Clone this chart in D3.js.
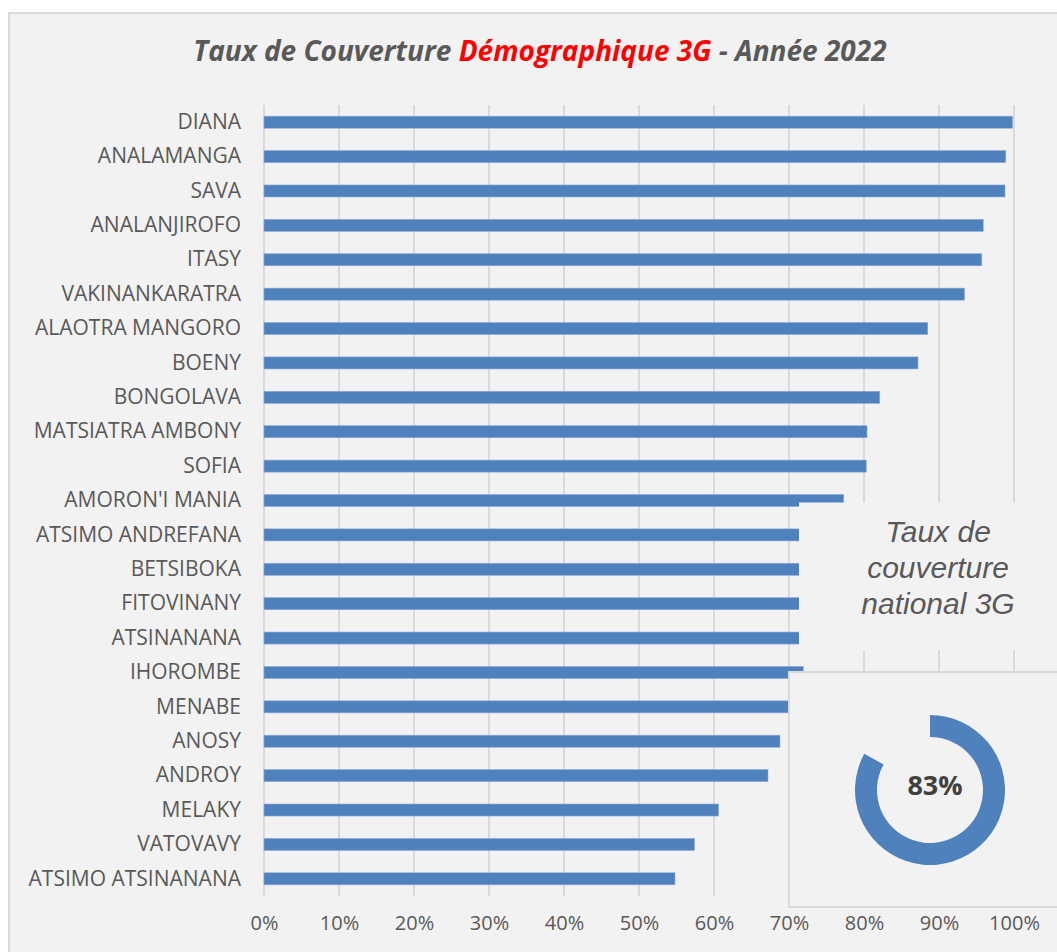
<!DOCTYPE html>
<html>
<head>
<meta charset="utf-8">
<script src="https://cdn.jsdelivr.net/npm/d3@7"></script>
<style>
  html, body { margin: 0; padding: 0; background: #ffffff; }
  svg { display: block; font-family: "Open Sans", "DejaVu Sans", sans-serif; }
</style>
</head>
<body>
<div id="chart"></div>
<script>
// Regions sorted by 3G population coverage, top to bottom.
const regions = [
  "DIANA", "ANALAMANGA", "SAVA", "ANALANJIROFO", "ITASY", "VAKINANKARATRA",
  "ALAOTRA MANGORO", "BOENY", "BONGOLAVA", "MATSIATRA AMBONY", "SOFIA",
  "AMORON'I MANIA", "ATSIMO ANDREFANA", "BETSIBOKA", "FITOVINANY", "ATSINANANA",
  "IHOROMBE", "MENABE", "ANOSY", "ANDROY", "MELAKY", "VATOVAVY", "ATSIMO ATSINANANA"
];
// Coverage in %. Some bar ends sit under the inset boxes, those are estimates.
const coverage = [
  99.8, 98.9, 98.8, 95.9, 95.7, 93.4,
  88.5, 87.2, 82.1, 80.4, 80.3,
  77.3, 75.5, 74.5, 73.5, 72.5,
  71.9, 71.0, 68.8, 67.2, 60.6, 57.4, 54.8
];
const xTicks = [0, 10, 20, 30, 40, 50, 60, 70, 80, 90, 100];
const nationalRate = [83, 17]; // covered, not covered
const insetLines = ["Taux de", "couverture", "national 3G"];

const W = 1057, H = 952;
const BG = "#f2f2f2", GRID = "#d9d9d9", TXT = "#595959", BAR = "#4f81bd";

const svg = d3.select("#chart").append("svg").attr("width", W).attr("height", H);

// chart area with its light border (right/bottom edges are off-picture)
svg.append("rect")
  .attr("x", 9).attr("y", 13).attr("width", W + 20).attr("height", H + 20)
  .attr("fill", BG).attr("stroke", GRID).attr("stroke-width", 2);

// title
const title = svg.append("text")
  .attr("x", 540).attr("y", 61)
  .attr("text-anchor", "middle")
  .attr("font-size", 28).attr("font-weight", 700).attr("font-style", "italic")
  .attr("fill", TXT);
title.append("tspan").text("Taux de Couverture ");
title.append("tspan").attr("fill", "#ff0000").text("Démographique 3G");
title.append("tspan").text(" - Année 2022");

const x = d3.scaleLinear().domain([0, 100]).range([264, 1014]);
const y = d3.scaleBand().domain(regions).range([105, 896]).paddingInner(0.65).paddingOuter(0.325);

// vertical gridlines
svg.append("g").selectAll("line").data(xTicks).join("line")
  .attr("x1", d => x(d)).attr("x2", d => x(d))
  .attr("y1", 105).attr("y2", 896)
  .attr("stroke", GRID).attr("stroke-width", 2);

// x axis tick labels
const xAxis = svg.append("g")
  .attr("transform", "translate(0,896)")
  .call(d3.axisBottom(x).tickValues(xTicks).tickFormat(d => d + "%").tickSize(0).tickPadding(20));
xAxis.select(".domain").remove();
xAxis.selectAll("text")
  .attr("font-family", "'Open Sans', sans-serif").attr("font-size", 20).attr("fill", TXT);

// category labels
const yAxis = svg.append("g")
  .attr("transform", "translate(264,0)")
  .call(d3.axisLeft(y).tickSize(0).tickPadding(23));
yAxis.select(".domain").remove();
yAxis.selectAll("text")
  .attr("font-family", "'Open Sans', sans-serif").attr("font-size", 21).attr("fill", TXT);

// bars
svg.append("g").selectAll("rect").data(regions).join("rect")
  .attr("x", x(0))
  .attr("y", d => y(d))
  .attr("width", (d, i) => x(coverage[i]) - x(0))
  .attr("height", y.bandwidth())
  .attr("fill", BAR)
  .attr("stroke", "#8eaad6").attr("stroke-width", 0.6);

// inset text box (no border) sitting over the bars
svg.append("rect")
  .attr("x", 799).attr("y", 502.5).attr("width", 300).attr("height", 147.5)
  .attr("fill", BG);
svg.append("g").selectAll("text").data(insetLines).join("text")
  .attr("x", 938).attr("y", (d, i) => 542 + i * 36)
  .attr("text-anchor", "middle")
  .attr("font-family", "'Liberation Sans', Arial, sans-serif")
  .attr("font-style", "italic").attr("font-size", 30)
  .attr("fill", TXT)
  .text(d => d);

// inset donut box
svg.append("rect")
  .attr("x", 789).attr("y", 672).attr("width", 300).attr("height", 235)
  .attr("fill", BG).attr("stroke", GRID).attr("stroke-width", 2);

const pie = d3.pie().sort(null);
const arc = d3.arc().innerRadius(53).outerRadius(75);
const donut = svg.append("g").attr("transform", "translate(930,790)");
donut.selectAll("path").data(pie(nationalRate)).join("path")
  .attr("d", arc)
  .attr("fill", (d, i) => i === 0 ? BAR : "none");
donut.append("text")
  .attr("x", 5).attr("y", 5)
  .attr("text-anchor", "middle")
  .attr("font-size", 27).attr("font-weight", 700)
  .attr("fill", "#404040")
  .text(nationalRate[0] + "%");
</script>
</body>
</html>
